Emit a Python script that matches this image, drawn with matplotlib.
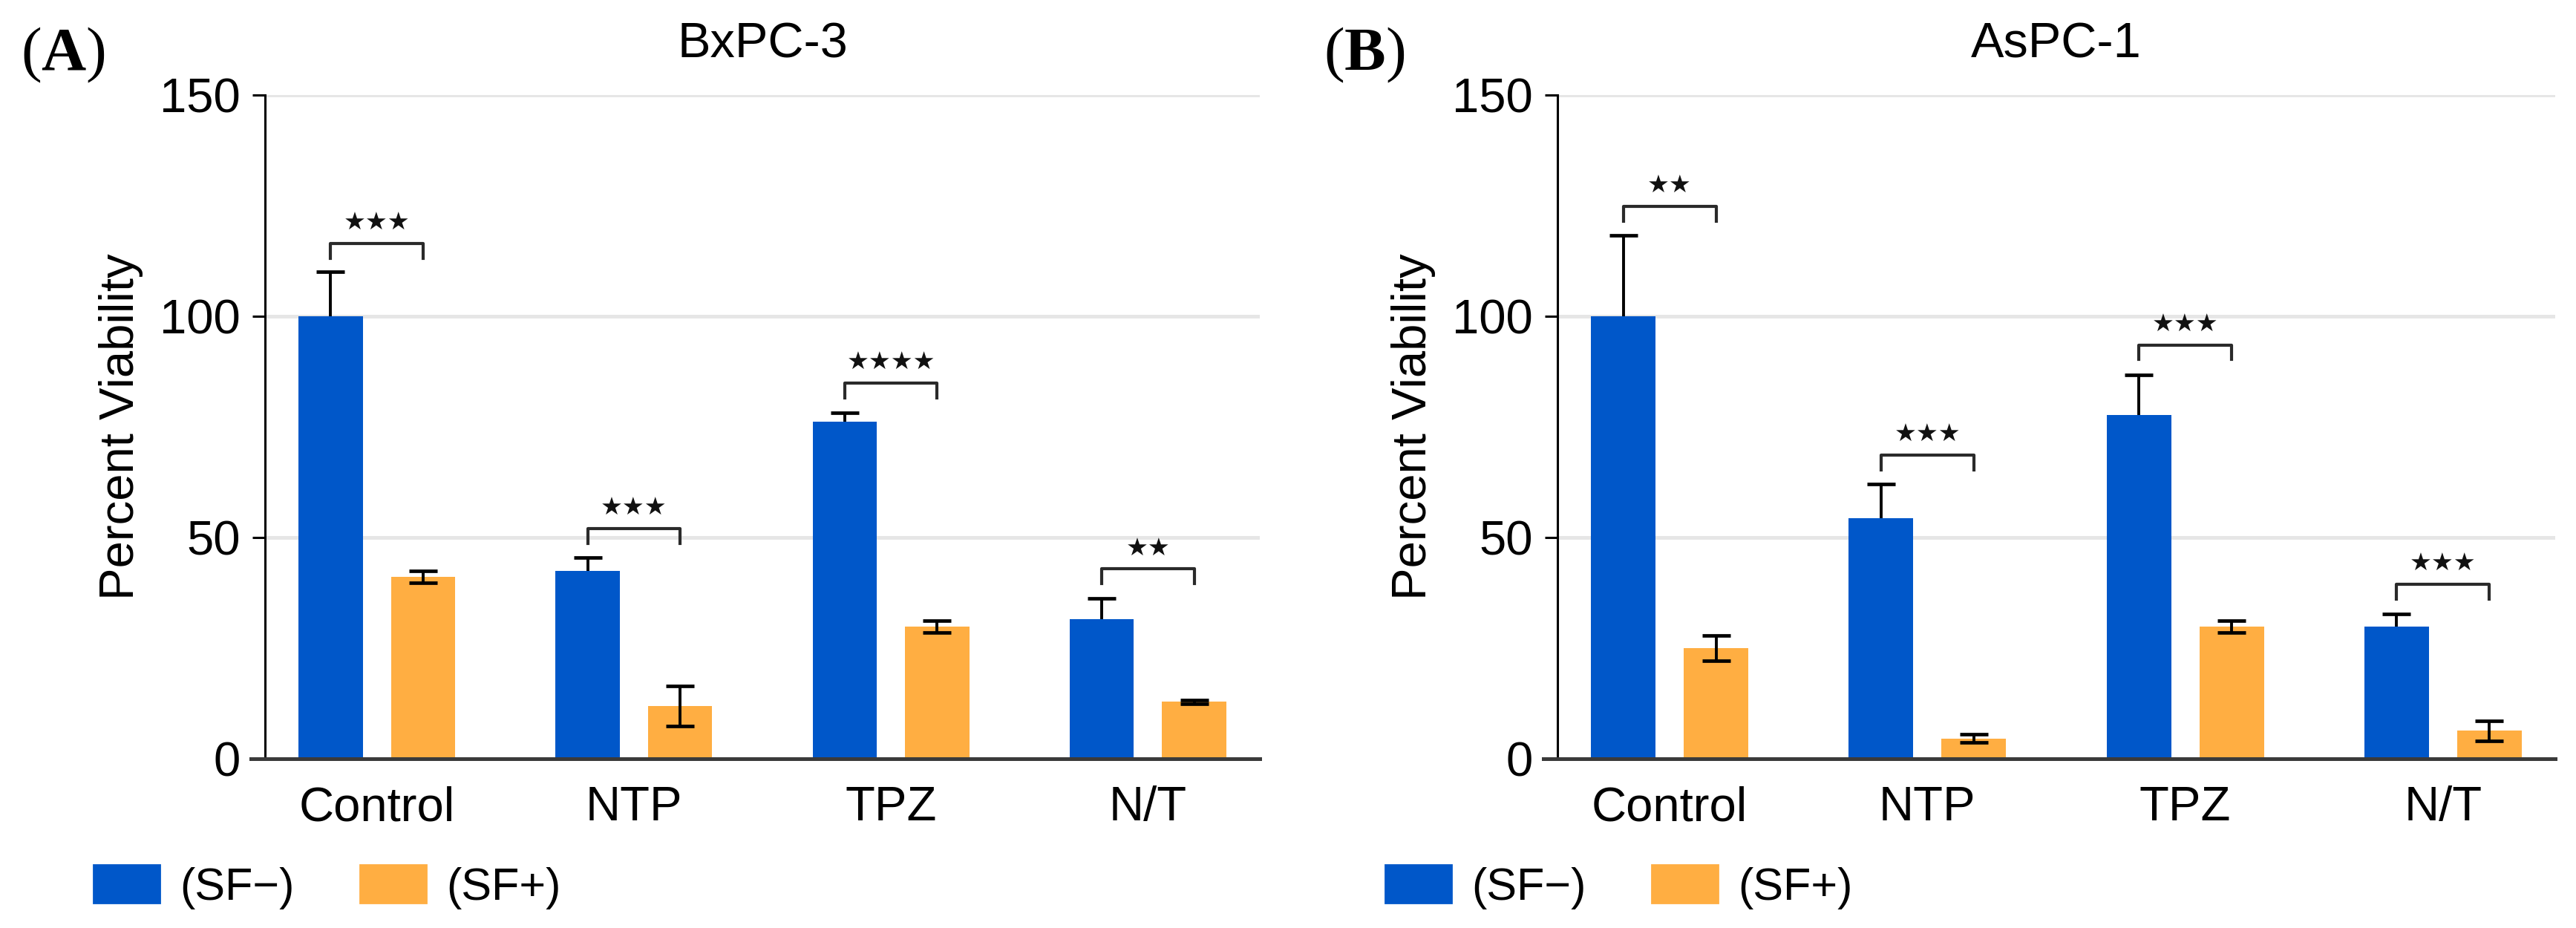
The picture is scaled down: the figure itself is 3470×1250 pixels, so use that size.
import numpy as np
import matplotlib
matplotlib.use('Agg')
import matplotlib.pyplot as plt
from matplotlib.patches import Patch

plt.rcParams['font.family'] = ['Liberation Sans', 'DejaVu Sans']
plt.rcParams['mathtext.fontset'] = 'custom'
plt.rcParams['mathtext.rm'] = 'Liberation Serif'
plt.rcParams['mathtext.bf'] = 'Liberation Serif:bold'

# data
groups = ['Control', 'NTP', 'TPZ', 'N/T']
series = ['(SF\u2212)', '(SF+)']

bx_minus = [100, 42.5, 76.2, 31.5]
bx_minus_err = [10, 2.9, 2.0, 4.8]
bx_plus = [41.1, 11.9, 29.9, 12.9]
bx_plus_err = [1.3, 4.5, 1.3, 0.4]
bx_bracket = [116.4, 52, 84.9, 42.9]
bx_stars = ['***', '***', '****', '**']

as_minus = [100, 54.3, 77.7, 29.8]
as_minus_err = [18.3, 7.8, 9.0, 3.0]
as_plus = [25, 4.6, 29.9, 6.3]
as_plus_err = [2.8, 0.9, 1.3, 2.3]
as_bracket = [124.8, 68.6, 93.5, 39.4]
as_stars = ['**', '***', '***', '***']

blue = '#0057c9'
orange = '#ffae42'
W, H = 3470, 1250


# draws one panel: bars, error bars, brackets, stars, legend
def panel(ax, minus, minus_err, plus, plus_err, bracket, stars, title, tag, tagx, legx):
	x = np.arange(len(groups))
	off = 0.18
	width = 0.25

	ax.bar(x - off, minus, width, color=blue, zorder=2)
	ax.bar(x + off, plus, width, color=orange, zorder=2)

	# blue bars only show the upper half of the error bar
	eb = ax.errorbar(x - off, minus, yerr=[np.zeros(len(minus)), minus_err], fmt='none',
					 ecolor='black', elinewidth=1.4, capsize=7, capthick=1.7, zorder=3)
	for cap in eb[1]:
		if np.allclose(cap.get_ydata(), minus):
			cap.set_visible(False)
	ax.errorbar(x + off, plus, yerr=plus_err, fmt='none',
				ecolor='black', elinewidth=1.4, capsize=7, capthick=1.7, zorder=3)

	# significance brackets
	for i in range(len(groups)):
		yb = bracket[i]
		ax.plot([x[i] - off, x[i] - off, x[i] + off, x[i] + off],
				[yb - 3.3, yb, yb, yb - 3.3], color='#2a2a2a', lw=1.5, zorder=3)
		ax.text(x[i], yb + 4.6, stars[i].replace('*', '\u2605'), ha='center', va='center',
				fontsize=12, family='DejaVu Sans', color='#111111')

	ax.set_xlim(-0.435, 3.435)
	ax.set_ylim(0, 150)
	ax.set_yticks([0, 50, 100, 150])
	ax.set_xticks(x)
	ax.set_xticklabels(groups)
	ax.tick_params(axis='x', length=0, pad=13, labelsize=23.5)
	ax.tick_params(axis='y', length=6, width=1.1, pad=6, labelsize=23.5)
	ax.set_ylabel('Percent Viability', fontsize=23.5, labelpad=8)

	for s in ['top', 'right', 'bottom']:
		ax.spines[s].set_visible(False)
	ax.spines['left'].set_linewidth(1.1)
	ax.yaxis.grid(True, color='#e6e6e6', lw=1.8)
	ax.set_axisbelow(True)
	ax.axhline(0, xmin=-0.014, xmax=1, color='#3a3a3a', lw=1.8, zorder=4, clip_on=False)

	ax.set_title(title, fontsize=24, pad=18)
	# panel tag: plain parentheses, bold letter
	ax.text(tagx, 1 - 74 / H, '(' + r'$\mathbf{' + tag + '}$' + ')', transform=plt.gcf().transFigure,
			family='Liberation Serif', fontsize=30, va='center', ha='left')

	handles = [Patch(color=blue), Patch(color=orange)]
	ax.legend(handles, series, loc='center left', bbox_to_anchor=(legx, 1 - 1195 / H),
			  bbox_transform=plt.gcf().transFigure, ncol=2, frameon=False, fontsize=22,
			  handlelength=1.45, handleheight=0.9, handletextpad=0.45, columnspacing=1.45,
			  borderpad=0, borderaxespad=0)


fig = plt.figure(figsize=(W / 200, H / 200), dpi=200)
axA = fig.add_axes([357 / W, 1 - 1022 / H, 1340 / W, 894 / H])
axB = fig.add_axes([2098 / W, 1 - 1022 / H, 1344 / W, 894 / H])

panel(axA, bx_minus, bx_minus_err, bx_plus, bx_plus_err, bx_bracket, bx_stars,
	  'BxPC-3', 'A', 28 / W, 126 / W)
panel(axB, as_minus, as_minus_err, as_plus, as_plus_err, as_bracket, as_stars,
	  'AsPC-1', 'B', 1783 / W, 1866 / W)

fig.savefig('out.png', dpi=200)
